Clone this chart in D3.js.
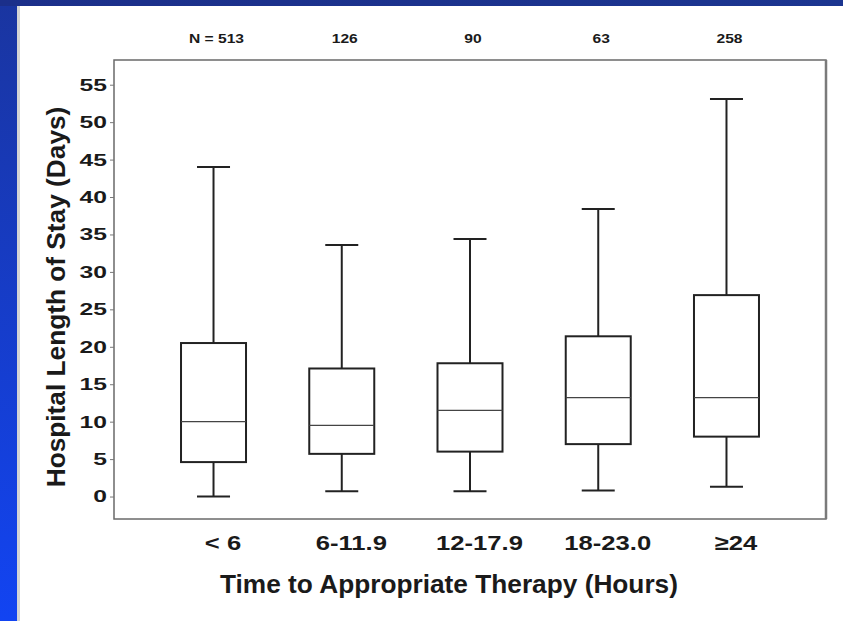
<!DOCTYPE html>
<html>
<head>
<meta charset="utf-8">
<script src="https://cdn.jsdelivr.net/npm/d3@7"></script>
<style>
  body { margin: 0; background: #ffffff; }
  text { font-family: "Liberation Sans", Arial, sans-serif; font-weight: bold; fill: #1a1a1a; }
</style>
</head>
<body>
<div id="chart"></div>
<script>
// Data
const categories = ["< 6", "6-11.9", "12-17.9", "18-23.0", "\u226524"];
const nLabels = ["N = 513", "126", "90", "63", "258"];
const whiskerLow = [0, 0.7, 0.7, 0.8, 1.3];
const q1 = [4.6, 5.7, 6.0, 7.0, 8.0];
const median = [10.0, 9.5, 11.5, 13.2, 13.2];
const q3 = [20.5, 17.1, 17.8, 21.4, 26.9];
const whiskerHigh = [44.0, 33.6, 34.4, 38.4, 53.1];
const yTicks = [0, 5, 10, 15, 20, 25, 30, 35, 40, 45, 50, 55];

const boxes = categories.map((c, i) => ({
  cat: c,
  n: nLabels[i],
  lo: whiskerLow[i],
  q1: q1[i],
  med: median[i],
  q3: q3[i],
  hi: whiskerHigh[i]
}));

const W = 843, H = 621;
// plot frame
const frame = { left: 114, right: 826, top: 60, bottom: 519 };

const svg = d3
  .select("#chart")
  .append("svg")
  .attr("width", W)
  .attr("height", H);

// slide background (blue strips top and left)
const defs = svg.append("defs");
const gLeft = defs.append("linearGradient").attr("id", "gl").attr("x1", 0).attr("y1", 0).attr("x2", 0).attr("y2", 1);
gLeft.append("stop").attr("offset", "0%").attr("stop-color", "#1a35a0");
gLeft.append("stop").attr("offset", "100%").attr("stop-color", "#1244f2");
const gTop = defs.append("linearGradient").attr("id", "gt").attr("x1", 0).attr("y1", 0).attr("x2", 1).attr("y2", 0);
gTop.append("stop").attr("offset", "0%").attr("stop-color", "#1b2f8a");
gTop.append("stop").attr("offset", "100%").attr("stop-color", "#1b3590");

svg.append("rect").attr("width", W).attr("height", H).attr("fill", "#ffffff");
svg.append("rect").attr("x", 0).attr("y", 0).attr("width", 17).attr("height", H).attr("fill", "url(#gl)");
svg.append("rect").attr("x", 0).attr("y", 0).attr("width", W).attr("height", 6).attr("fill", "url(#gt)");
svg.append("rect").attr("x", 17).attr("y", 6).attr("width", 3).attr("height", H - 6).attr("fill", "#d4d4d4");

// Scales
const x = d3.scalePoint().domain(categories).range([frame.left, frame.right]).padding(0.776);
const y = d3.scaleLinear().domain([-3, 58.3]).range([frame.bottom, frame.top]);

const boxW = 65, capW = 33;

// horizontal stretch helper (the source lettering is wider than Arial)
function stretch(sel, k) {
  sel.each(function () {
    const w = this.getComputedTextLength();
    d3.select(this).attr("textLength", w * k).attr("lengthAdjust", "spacingAndGlyphs");
  });
}

// Frame
svg.append("rect")
  .attr("x", frame.left)
  .attr("y", frame.top)
  .attr("width", frame.right - frame.left)
  .attr("height", frame.bottom - frame.top)
  .attr("fill", "none")
  .attr("stroke", "#6a6a6a")
  .attr("stroke-width", 1.5);
svg.append("line")
  .attr("x1", frame.right).attr("x2", frame.right)
  .attr("y1", frame.top).attr("y2", frame.bottom)
  .attr("stroke", "#7a7a7a")
  .attr("stroke-width", 2.5);

// Y axis
const yAxis = svg.append("g")
  .attr("transform", `translate(${frame.left},0)`)
  .call(d3.axisLeft(y).tickValues(yTicks).tickSize(4).tickPadding(3))
  .call((g) => g.select(".domain").remove());
yAxis.selectAll(".tick line").attr("stroke", "#777");
yAxis.selectAll(".tick text")
  .style("font-size", "17px")
  .style("font-family", "Liberation Sans, Arial, sans-serif")
  .style("font-weight", "bold")
  .attr("fill", "#1a1a1a")
  .call(stretch, 1.45);

// X axis labels
const xAxis = svg.append("g")
  .attr("transform", `translate(0,${frame.bottom})`)
  .call(d3.axisBottom(x).tickSize(0).tickPadding(16))
  .call((g) => g.select(".domain").remove());
xAxis.selectAll(".tick text")
  .attr("dx", 9)
  .style("font-size", "21px")
  .style("font-family", "Liberation Sans, Arial, sans-serif")
  .style("font-weight", "bold")
  .attr("fill", "#1a1a1a")
  .call(stretch, 1.22);

// N labels above the frame
svg.selectAll(".nlab")
  .data(boxes)
  .enter()
  .append("text")
  .attr("class", "nlab")
  .attr("x", (d) => x(d.cat) + 3)
  .attr("y", 43)
  .style("text-anchor", "middle")
  .style("font-size", "13px")
  .attr("fill", "#333")
  .text((d) => d.n)
  .call(stretch, 1.2);

// Axis titles
svg.append("text")
  .attr("x", 449)
  .attr("y", 593)
  .style("text-anchor", "middle")
  .style("font-size", "25px")
  .text("Time to Appropriate Therapy (Hours)")
  .call(stretch, 1.05);

svg.append("text")
  .attr("transform", "translate(65,297) rotate(-90)")
  .style("text-anchor", "middle")
  .style("font-size", "25px")
  .text("Hospital Length of Stay (Days)")
  .call(stretch, 1.05);

// Boxes
const g = svg.selectAll(".box")
  .data(boxes)
  .enter()
  .append("g")
  .attr("class", "box");

// whiskers
g.append("line")
  .attr("x1", (d) => x(d.cat)).attr("x2", (d) => x(d.cat))
  .attr("y1", (d) => y(d.q3)).attr("y2", (d) => y(d.hi))
  .attr("stroke", "#222").attr("stroke-width", 2);
g.append("line")
  .attr("x1", (d) => x(d.cat)).attr("x2", (d) => x(d.cat))
  .attr("y1", (d) => y(d.lo)).attr("y2", (d) => y(d.q1))
  .attr("stroke", "#222").attr("stroke-width", 2);
// caps
g.append("line")
  .attr("x1", (d) => x(d.cat) - capW / 2).attr("x2", (d) => x(d.cat) + capW / 2)
  .attr("y1", (d) => y(d.hi)).attr("y2", (d) => y(d.hi))
  .attr("stroke", "#222").attr("stroke-width", 2);
g.append("line")
  .attr("x1", (d) => x(d.cat) - capW / 2).attr("x2", (d) => x(d.cat) + capW / 2)
  .attr("y1", (d) => y(d.lo)).attr("y2", (d) => y(d.lo))
  .attr("stroke", "#222").attr("stroke-width", 2);
// box
g.append("rect")
  .attr("x", (d) => x(d.cat) - boxW / 2)
  .attr("y", (d) => y(d.q3))
  .attr("width", boxW)
  .attr("height", (d) => y(d.q1) - y(d.q3))
  .attr("fill", "#fff")
  .attr("stroke", "#222")
  .attr("stroke-width", 2);
// median
g.append("line")
  .attr("x1", (d) => x(d.cat) - boxW / 2).attr("x2", (d) => x(d.cat) + boxW / 2)
  .attr("y1", (d) => y(d.med)).attr("y2", (d) => y(d.med))
  .attr("stroke", "#444").attr("stroke-width", 1.3);
</script>
</body>
</html>
